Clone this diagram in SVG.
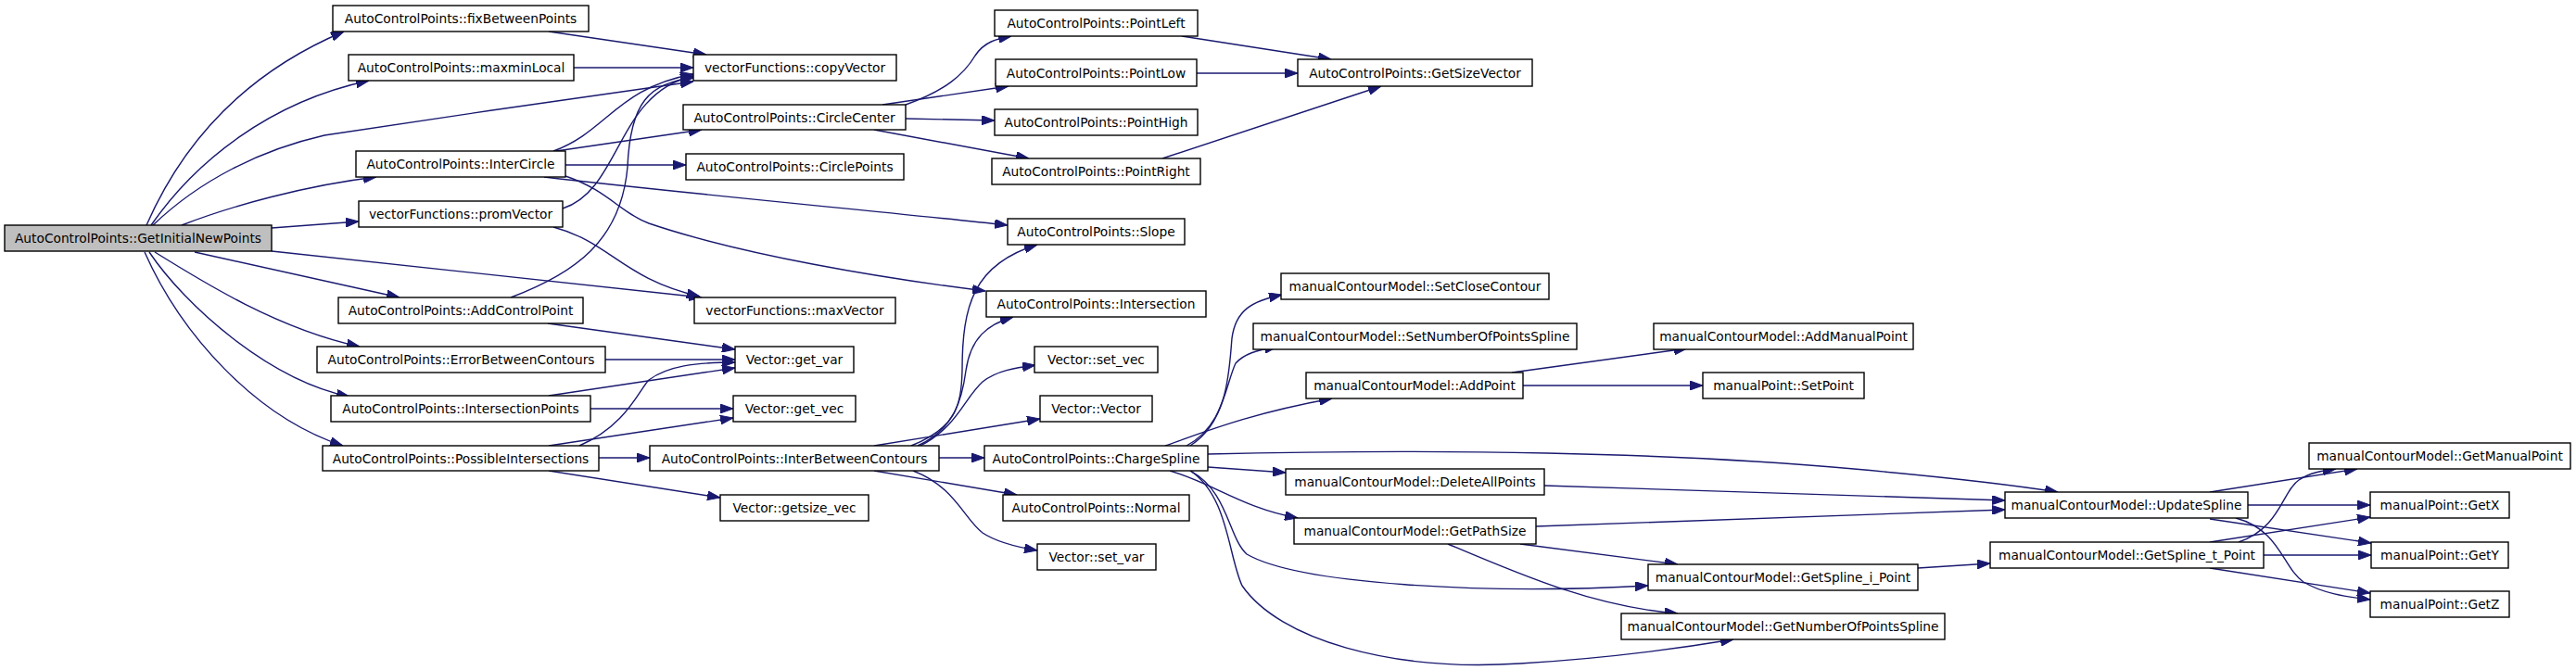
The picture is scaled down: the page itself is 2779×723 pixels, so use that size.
<svg xmlns="http://www.w3.org/2000/svg" width="2779" height="723" viewBox="0 0 2779 723">
<style>
.n rect{fill:#ffffff;stroke:#000000;stroke-width:1.4}
.n.root rect{fill:#bfbfbf}
.n text{font-family:"DejaVu Sans","Liberation Sans",sans-serif;font-size:13.75px;fill:#000000;text-anchor:middle}
#edges path{fill:none;stroke:#191970;stroke-width:1.4;marker-end:url(#ah)}
</style>
<defs>
<marker id="ah" viewBox="0 0 14 10" refX="14" refY="5" markerWidth="14" markerHeight="10" markerUnits="userSpaceOnUse" orient="auto">
<path d="M0,0 L14,5 L0,10 z" fill="#191970" stroke="#191970" stroke-width="1"/>
</marker>
</defs>
<rect width="2779" height="723" fill="#ffffff"/>
<g id="edges">
<path d="M158,243 C190,170 250,85 371,34"/>
<path d="M163,243 C210,175 290,110 398,87"/>
<path d="M165,243 C215,195 280,162 350,146 C480,126 620,106 748,88"/>
<path d="M196,243 C250,222 330,200 406,191"/>
<path d="M293,246 L387,239"/>
<path d="M293,271 L757,321"/>
<path d="M210,272 L431,321"/>
<path d="M167,272 C220,305 300,355 388,374"/>
<path d="M161,272 C200,330 290,410 377,428"/>
<path d="M156,272 C195,360 275,450 370,481"/>
<path d="M592,34 L762,59"/>
<path d="M619,73 L748,73"/>
<path d="M597,163 C655,142 665,95 748,80"/>
<path d="M600,163 L757,140"/>
<path d="M610,178 L740,178"/>
<path d="M587,191 C750,210 950,228 1087,243"/>
<path d="M610,190 C655,205 670,230 700,241 C800,275 950,300 1063,314"/>
<path d="M607,225 C670,205 665,100 748,82"/>
<path d="M597,245 C660,262 670,300 755,320"/>
<path d="M551,321 C620,295 670,260 677,180 C680,110 700,90 748,84"/>
<path d="M591,349 L793,377"/>
<path d="M653,388 L793,388"/>
<path d="M592,427 L793,397"/>
<path d="M637,441 L791,441"/>
<path d="M625,481 C675,460 690,420 700,410 C720,395 750,391 793,391"/>
<path d="M592,481 L791,451"/>
<path d="M646,494 L701,494"/>
<path d="M592,508 L777,537"/>
<path d="M977,113 C1020,98 1040,80 1052,60 C1062,45 1075,42 1091,39"/>
<path d="M952,113 L1088,93"/>
<path d="M977,128 L1073,130"/>
<path d="M943,140 L1110,171"/>
<path d="M1275,39 L1436,64"/>
<path d="M1291,79 L1400,79"/>
<path d="M1254,171 L1490,93"/>
<path d="M983,481 C1030,462 1037,440 1038,400 C1038,330 1050,285 1119,264"/>
<path d="M990,481 C1030,463 1038,430 1042,400 C1047,365 1065,350 1093,342"/>
<path d="M993,481 C1033,460 1040,430 1060,412 C1075,400 1095,397 1117,394"/>
<path d="M943,481 L1122,452"/>
<path d="M1013,494 L1062,494"/>
<path d="M943,508 L1097,534"/>
<path d="M985,508 C1030,525 1040,560 1060,575 C1075,585 1095,590 1119,594"/>
<path d="M1284,481 C1325,455 1326,400 1329,365 C1333,335 1350,325 1383,318"/>
<path d="M1280,481 C1320,460 1322,415 1333,392 C1342,382 1355,378 1378,374"/>
<path d="M1257,481 C1300,466 1345,447 1437,430"/>
<path d="M1303,490 C1550,484 1800,488 2000,506 C2100,515 2170,523 2220,531"/>
<path d="M1303,504 L1387,510"/>
<path d="M1262,508 C1310,522 1340,548 1400,559"/>
<path d="M1284,508 C1325,530 1325,580 1345,598 C1400,630 1600,642 1778,632"/>
<path d="M1284,508 C1325,535 1325,600 1340,632 C1380,690 1500,725 1640,716 C1740,710 1810,700 1870,690"/>
<path d="M1631,402 L1820,376"/>
<path d="M1643,416 L1837,416"/>
<path d="M1666,524 L2163,540"/>
<path d="M1657,568 L2163,550"/>
<path d="M1640,587 L1810,609"/>
<path d="M1562,587 C1640,620 1720,655 1810,662"/>
<path d="M2069,613 L2147,608"/>
<path d="M2384,531 L2543,506"/>
<path d="M2425,545 L2557,545"/>
<path d="M2384,560 L2558,586"/>
<path d="M2412,559 C2460,572 2462,612 2485,628 C2505,640 2530,644 2557,647"/>
<path d="M2415,585 C2460,570 2462,530 2480,518 C2492,510 2505,508 2520,506"/>
<path d="M2384,585 L2557,558"/>
<path d="M2442,599 L2558,599"/>
<path d="M2384,613 L2557,640"/>
</g>
<g id="GetInitialNewPoints" class="n root"><rect x="5" y="243" width="288" height="28"/><text x="149" y="262">AutoControlPoints::GetInitialNewPoints</text></g>
<g id="fixBetweenPoints" class="n"><rect x="359" y="6" width="276" height="28"/><text x="497" y="25">AutoControlPoints::fixBetweenPoints</text></g>
<g id="maxminLocal" class="n"><rect x="376" y="59" width="243" height="28"/><text x="497.5" y="78">AutoControlPoints::maxminLocal</text></g>
<g id="InterCircle" class="n"><rect x="384" y="163" width="226" height="28"/><text x="497" y="182">AutoControlPoints::InterCircle</text></g>
<g id="promVector" class="n"><rect x="387" y="217" width="220" height="28"/><text x="497" y="236">vectorFunctions::promVector</text></g>
<g id="AddControlPoint" class="n"><rect x="365" y="321" width="264" height="28"/><text x="497" y="340">AutoControlPoints::AddControlPoint</text></g>
<g id="ErrorBetweenContours" class="n"><rect x="342" y="374" width="311" height="28"/><text x="497.5" y="393">AutoControlPoints::ErrorBetweenContours</text></g>
<g id="IntersectionPoints" class="n"><rect x="357" y="427" width="280" height="28"/><text x="497" y="446">AutoControlPoints::IntersectionPoints</text></g>
<g id="PossibleIntersections" class="n"><rect x="348" y="481" width="298" height="27"/><text x="497" y="500">AutoControlPoints::PossibleIntersections</text></g>
<g id="copyVector" class="n"><rect x="748" y="59" width="219" height="28"/><text x="857.5" y="78">vectorFunctions::copyVector</text></g>
<g id="CircleCenter" class="n"><rect x="737" y="113" width="240" height="27"/><text x="857" y="132">AutoControlPoints::CircleCenter</text></g>
<g id="CirclePoints" class="n"><rect x="740" y="166" width="235" height="28"/><text x="857.5" y="185">AutoControlPoints::CirclePoints</text></g>
<g id="maxVector" class="n"><rect x="749" y="321" width="217" height="28"/><text x="857.5" y="340">vectorFunctions::maxVector</text></g>
<g id="get_var" class="n"><rect x="793" y="374" width="128" height="28"/><text x="857" y="393">Vector::get_var</text></g>
<g id="get_vec" class="n"><rect x="791" y="427" width="132" height="28"/><text x="857" y="446">Vector::get_vec</text></g>
<g id="InterBetweenContours" class="n"><rect x="701" y="481" width="312" height="27"/><text x="857" y="500">AutoControlPoints::InterBetweenContours</text></g>
<g id="getsize_vec" class="n"><rect x="777" y="534" width="160" height="28"/><text x="857" y="553">Vector::getsize_vec</text></g>
<g id="PointLeft" class="n"><rect x="1073" y="11" width="219" height="28"/><text x="1182.5" y="30">AutoControlPoints::PointLeft</text></g>
<g id="PointLow" class="n"><rect x="1074" y="64" width="217" height="29"/><text x="1182.5" y="84">AutoControlPoints::PointLow</text></g>
<g id="PointHigh" class="n"><rect x="1073" y="118" width="219" height="28"/><text x="1182.5" y="137">AutoControlPoints::PointHigh</text></g>
<g id="PointRight" class="n"><rect x="1070" y="171" width="225" height="28"/><text x="1182.5" y="190">AutoControlPoints::PointRight</text></g>
<g id="Slope" class="n"><rect x="1087" y="236" width="191" height="28"/><text x="1182.5" y="255">AutoControlPoints::Slope</text></g>
<g id="Intersection" class="n"><rect x="1064" y="314" width="237" height="28"/><text x="1182.5" y="333">AutoControlPoints::Intersection</text></g>
<g id="set_vec" class="n"><rect x="1116" y="374" width="133" height="28"/><text x="1182.5" y="393">Vector::set_vec</text></g>
<g id="Vector" class="n"><rect x="1122" y="427" width="121" height="28"/><text x="1182.5" y="446">Vector::Vector</text></g>
<g id="ChargeSpline" class="n"><rect x="1062" y="481" width="241" height="27"/><text x="1182.5" y="500">AutoControlPoints::ChargeSpline</text></g>
<g id="Normal" class="n"><rect x="1082" y="534" width="201" height="28"/><text x="1182.5" y="553">AutoControlPoints::Normal</text></g>
<g id="set_var" class="n"><rect x="1119" y="587" width="128" height="28"/><text x="1183" y="606">Vector::set_var</text></g>
<g id="GetSizeVector" class="n"><rect x="1400" y="64" width="253" height="29"/><text x="1526.5" y="84">AutoControlPoints::GetSizeVector</text></g>
<g id="SetCloseContour" class="n"><rect x="1382" y="295" width="289" height="28"/><text x="1526.5" y="314">manualContourModel::SetCloseContour</text></g>
<g id="SetNumberOfPointsSpline" class="n"><rect x="1352" y="349" width="349" height="28"/><text x="1526.5" y="368">manualContourModel::SetNumberOfPointsSpline</text></g>
<g id="AddPoint" class="n"><rect x="1409" y="402" width="234" height="28"/><text x="1526" y="421">manualContourModel::AddPoint</text></g>
<g id="DeleteAllPoints" class="n"><rect x="1387" y="506" width="279" height="28"/><text x="1526.5" y="525">manualContourModel::DeleteAllPoints</text></g>
<g id="GetPathSize" class="n"><rect x="1396" y="559" width="261" height="28"/><text x="1526.5" y="578">manualContourModel::GetPathSize</text></g>
<g id="AddManualPoint" class="n"><rect x="1784" y="349" width="280" height="28"/><text x="1924" y="368">manualContourModel::AddManualPoint</text></g>
<g id="SetPoint" class="n"><rect x="1837" y="402" width="174" height="28"/><text x="1924" y="421">manualPoint::SetPoint</text></g>
<g id="GetSpline_i_Point" class="n"><rect x="1778" y="609" width="291" height="28"/><text x="1923.5" y="628">manualContourModel::GetSpline_i_Point</text></g>
<g id="GetNumberOfPointsSpline" class="n"><rect x="1749" y="662" width="349" height="28"/><text x="1923.5" y="681">manualContourModel::GetNumberOfPointsSpline</text></g>
<g id="UpdateSpline" class="n"><rect x="2163" y="531" width="262" height="28"/><text x="2294" y="550">manualContourModel::UpdateSpline</text></g>
<g id="GetSpline_t_Point" class="n"><rect x="2147" y="585" width="295" height="28"/><text x="2294.5" y="604">manualContourModel::GetSpline_t_Point</text></g>
<g id="GetManualPoint" class="n"><rect x="2491" y="478" width="282" height="28"/><text x="2632" y="497">manualContourModel::GetManualPoint</text></g>
<g id="GetX" class="n"><rect x="2557" y="531" width="150" height="28"/><text x="2632" y="550">manualPoint::GetX</text></g>
<g id="GetY" class="n"><rect x="2558" y="585" width="148" height="28"/><text x="2632" y="604">manualPoint::GetY</text></g>
<g id="GetZ" class="n"><rect x="2557" y="638" width="150" height="28"/><text x="2632" y="657">manualPoint::GetZ</text></g>
</svg>
